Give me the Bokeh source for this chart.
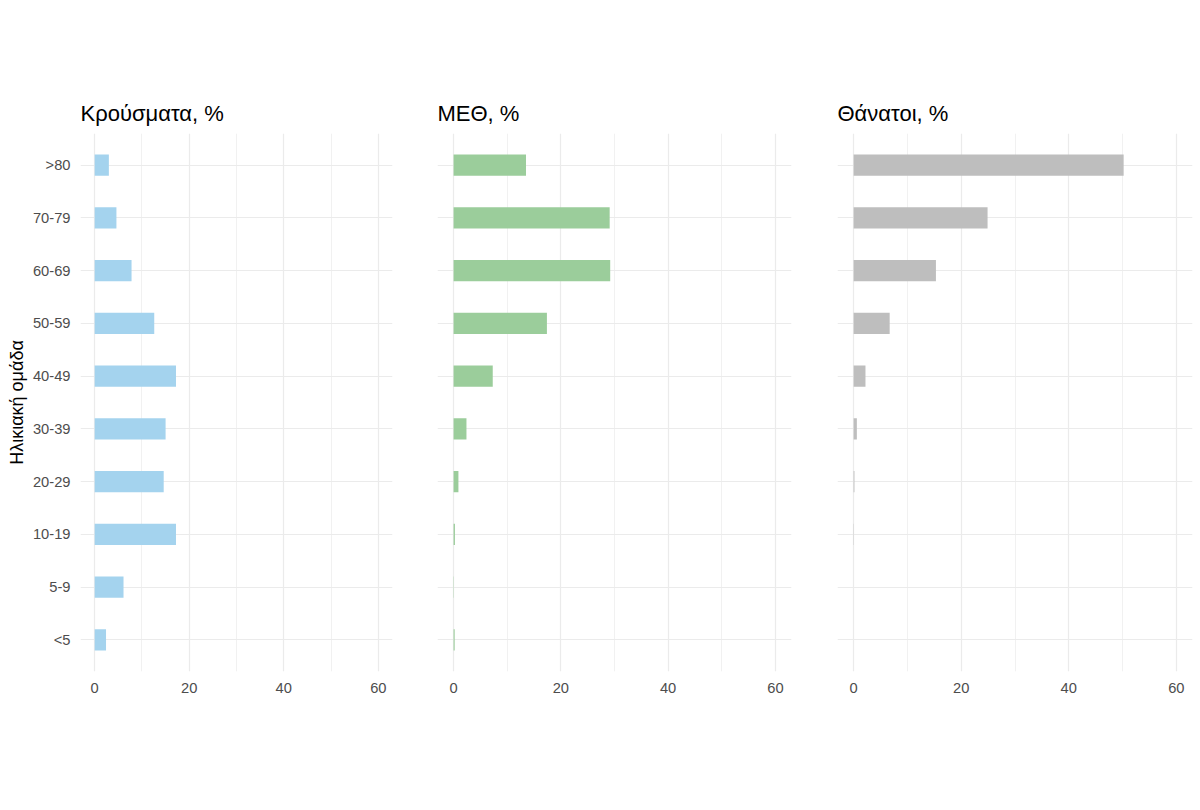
from bokeh.plotting import figure
from bokeh.layouts import row
from bokeh.models import Range1d, FactorRange, FixedTicker
from bokeh.embed import file_html
from bokeh.resources import INLINE

age_groups = ["<5", "5-9", "10-19", "20-29", "30-39", "40-49", "50-59", "60-69", "70-79", ">80"]
cases_pct = [2.4, 6.1, 17.2, 14.6, 15.0, 17.2, 12.6, 7.8, 4.6, 3.0]
icu_pct = [0.2, 0.05, 0.25, 0.9, 2.4, 7.3, 17.4, 29.2, 29.1, 13.5]
deaths_pct = [0.0, 0.0, 0.05, 0.15, 0.6, 2.2, 6.7, 15.3, 24.9, 50.2]

titles = ["Κρούσματα, %", "ΜΕΘ, %", "Θάνατοι, %"]
colors = ["#A4D3EE", "#9BCD9B", "#BEBEBE"]
x_ticks = [0, 20, 40, 60]
x_minor = [10, 30, 50]
y_label = "Ηλικιακή ομάδα"

FONT = "Liberation Sans"


def make_panel(title, values, color, width, left, right, show_y):
    p = figure(
        width=width, height=790,
        y_range=FactorRange(factors=age_groups, range_padding=0.02, range_padding_units="percent"),
        x_range=Range1d(-3, 63),
        output_backend="svg", toolbar_location=None,
        min_border_left=left, min_border_right=right,
        min_border_top=133, min_border_bottom=119,
        title=title,
    )
    p.hbar(y=age_groups, right=values, left=0, height=0.4,
           fill_color=color, line_color=None)
    p.outline_line_color = None
    p.background_fill_color = "white"
    p.border_fill_color = "white"

    p.title.text_font = FONT
    p.title.text_font_size = "22px"
    p.title.text_font_style = "normal"
    p.title.text_color = "black"
    p.title.align = "left"
    p.title.offset = 0
    p.title.standoff = 16

    p.xaxis.ticker = FixedTicker(ticks=x_ticks, minor_ticks=x_minor)
    p.xaxis.axis_line_color = None
    p.xaxis.major_tick_line_color = None
    p.xaxis.minor_tick_line_color = None
    p.xaxis.major_label_text_font = FONT
    p.xaxis.major_label_text_font_size = "14.7px"
    p.xaxis.major_label_text_color = "#4D4D4D"
    p.xaxis.major_label_standoff = 5

    p.yaxis.axis_line_color = None
    p.yaxis.major_tick_line_color = None
    p.yaxis.minor_tick_line_color = None
    p.yaxis.major_label_text_font = FONT
    p.yaxis.major_label_text_font_size = "14.7px"
    p.yaxis.major_label_text_color = "#4D4D4D"
    p.yaxis.major_label_standoff = 4
    if show_y:
        p.yaxis.axis_label = y_label
        p.yaxis.axis_label_text_font = FONT
        p.yaxis.axis_label_text_font_size = "18px"
        p.yaxis.axis_label_text_font_style = "normal"
        p.yaxis.axis_label_text_color = "black"
        p.yaxis.axis_label_standoff = 3
    else:
        p.yaxis.visible = False

    p.xgrid.grid_line_color = "#EBEBEB"
    p.xgrid.grid_line_width = 1.2
    p.xgrid.minor_grid_line_color = "#EBEBEB"
    p.xgrid.minor_grid_line_width = 0.7
    p.ygrid.grid_line_color = "#EBEBEB"
    p.ygrid.grid_line_width = 1.2
    return p


p1 = make_panel(titles[0], cases_pct, colors[0], 400, 80, 8, True)
p2 = make_panel(titles[1], icu_pct, colors[1], 400, 37, 9, False)
p3 = make_panel(titles[2], deaths_pct, colors[2], 400, 37, 8, False)

layout = row(p1, p2, p3)
open("out.html", "w").write(file_html(layout, INLINE))
